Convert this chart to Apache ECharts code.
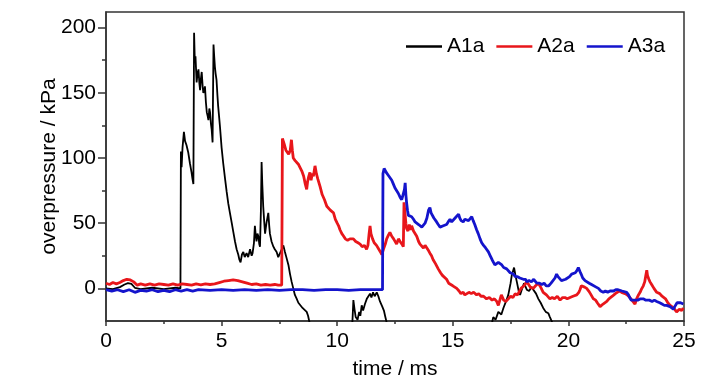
<!DOCTYPE html>
<html><head><meta charset="utf-8">
<script src="https://cdn.jsdelivr.net/npm/echarts@6/dist/echarts.min.js"></script>
<style>html,body{margin:0;padding:0;background:#fff}#c{width:728px;height:385px}</style>
</head><body><div id="c"></div><script>
const seriesNames = ['A1a', 'A2a', 'A3a'];
const seriesColors = ['#000000', '#e8161b', '#1414cc'];
const xTicks = [0, 5, 10, 15, 20, 25];
const yTicks = [0, 50, 100, 150, 200];
const yMinorTicks = [25, 75, 125, 175];

const a1a = [
[0,0],[0.3,-0.5],[0.6,1],[0.8,3],[0.95,4],[1.1,3.5],[1.25,0.5],[1.5,-0.5],[2.0,0.5],[2.5,-0.5],[3.0,0.5],[3.22,0],
[3.24,105],[3.27,93],[3.31,108],[3.37,120],[3.42,113],[3.48,110],[3.56,104],[3.63,96],[3.7,89],[3.74,84],[3.78,80],
[3.81,196],[3.84,175],[3.87,178],[3.92,158],[3.96,165],[4.0,168],[4.04,157],[4.07,152],[4.1,160],[4.14,166],[4.18,155],[4.21,150],[4.25,152],[4.28,155],[4.32,143],[4.36,135],[4.4,132],[4.43,129],[4.47,138],[4.5,135],[4.54,126],[4.57,122],[4.61,112],
[4.65,187],[4.68,178],[4.71,170],[4.74,165],[4.78,160],[4.82,148],[4.85,140],[4.9,130],[4.93,124],[5.0,108],[5.07,96],[5.15,84],[5.22,74],[5.29,65],[5.36,58],[5.44,50],[5.51,43],[5.58,36],[5.65,30],[5.72,26],[5.77,22],[5.82,20],[5.88,26],[5.94,28],[6.0,24],[6.08,27],[6.15,24],[6.23,30],[6.3,25],[6.34,27],[6.4,35],[6.44,48],[6.48,40],[6.51,36],[6.55,42],[6.59,40],[6.63,34],[6.66,32],[6.7,60],[6.73,97],[6.76,80],[6.8,63],[6.84,52],[6.88,42],[6.94,50],[7.02,58],[7.06,48],[7.09,42],[7.16,36],[7.24,32],[7.3,30],[7.38,28],[7.45,24],[7.52,25],[7.6,30],[7.67,33],[7.74,28],[7.8,24],[7.89,18],[7.96,11],[8.03,5],[8.1,0],[8.17,-5],[8.25,-8],[8.32,-11],[8.4,-12],[8.5,-15],[8.58,-14],[8.68,-18],[8.74,-21],[8.8,-26],[8.9,-40],
[10.5,-40],[10.66,-25],[10.7,-9],[10.75,-16],[10.8,-22],[10.88,-24],[10.95,-18],[11.0,-21],[11.06,-13],[11.12,-17],[11.2,-12],[11.28,-8],[11.35,-6],[11.42,-4],[11.48,-7],[11.55,-3],[11.62,-6],[11.71,-3],[11.78,-6],[11.85,-10],[11.95,-14],[12.02,-17],[12.07,-21],[12.15,-27],[12.3,-40],
[16.5,-40],[16.7,-26],[16.75,-22],[16.85,-24],[16.97,-18],[17.1,-20],[17.19,-15],[17.3,-10],[17.4,-5],[17.5,4],[17.55,10],[17.65,16],[17.72,9],[17.77,5],[17.85,-2],[17.91,-5],[18.0,0],[18.08,4],[18.2,-1],[18.3,-2],[18.4,1],[18.48,0],[18.6,-4],[18.7,-8],[18.8,-11],[18.91,-15],[19.02,-18],[19.13,-19],[19.2,-22],[19.3,-26],[19.45,-40],[25,-40]
];

const a2a = [
[0,4],[0.15,3],[0.3,4.5],[0.45,3.5],[0.6,4.5],[0.75,6],[0.9,7],[1.05,6.5],[1.2,5],[1.35,2.5],[1.5,3.5],[1.7,2.5],[1.9,3.5],[2.1,2.5],[2.3,3.5],[2.5,3],[2.7,2.5],[2.9,3.5],[3.1,2.5],[3.3,3.5],[3.5,3],[3.7,2.5],[3.9,3.5],[4.1,2.8],[4.3,3.5],[4.5,3],[4.7,3.5],[4.9,4.5],[5.1,5.5],[5.3,6],[5.5,6.5],[5.7,6],[5.9,5],[6.1,4],[6.3,3],[6.5,3.5],[6.7,2.5],[6.9,3],[7.1,2.5],[7.3,3],[7.45,2.5],[7.6,2.5],
[7.63,115],[7.67,114],[7.72,110],[7.78,106],[7.81,105],[7.9,103],[7.97,106],[8.02,114],[8.06,106],[8.1,100],[8.18,98],[8.26,97],[8.33,95],[8.39,94],[8.47,90],[8.55,86],[8.62,80],[8.68,76],[8.72,82],[8.77,86],[8.82,89],[8.87,83],[8.92,88],[8.97,86],[9.04,94],[9.1,88],[9.16,84],[9.26,78],[9.35,72],[9.45,68],[9.55,63],[9.63,62],[9.7,60],[9.78,59],[9.84,58],[9.92,53],[10.0,50],[10.06,48],[10.12,45],[10.2,42],[10.28,40],[10.35,38],[10.45,37],[10.55,38],[10.62,37],[10.7,38],[10.8,36],[10.9,35],[10.99,34],[11.08,32],[11.18,33],[11.27,30],[11.33,33],[11.38,42],[11.42,48],[11.46,42],[11.53,38],[11.6,35],[11.7,33],[11.8,30],[11.87,28],[11.93,26],[12.0,30],[12.08,34],[12.14,38],[12.22,41],[12.28,43],[12.36,40],[12.44,38],[12.5,37],[12.57,34],[12.65,38],[12.72,36],[12.8,34],[12.86,32],[12.89,66],[12.93,58],[12.97,50],[13.0,46],[13.06,44],[13.12,49],[13.17,45],[13.22,48],[13.3,44],[13.37,43],[13.44,40],[13.52,36],[13.58,34],[13.66,33],[13.73,31],[13.8,33],[13.87,32],[13.95,29],[14.01,27],[14.08,25],[14.15,22],[14.25,19],[14.37,15],[14.47,12],[14.55,10],[14.63,9],[14.73,7],[14.82,4],[14.9,3],[15.0,2],[15.08,1],[15.17,0],[15.27,-2],[15.35,-4],[15.45,-3],[15.52,-5],[15.6,-5],[15.7,-3],[15.8,-4],[15.9,-3],[16.03,-5],[16.12,-4],[16.22,-6],[16.33,-6],[16.46,-8],[16.58,-7],[16.7,-9],[16.8,-8],[16.9,-10],[16.97,-13],[17.05,-8],[17.1,-5],[17.2,-9],[17.3,-10],[17.4,-8],[17.5,-6],[17.6,-7],[17.7,-4],[17.8,-5],[17.95,0],[18.08,2],[18.2,5],[18.28,3],[18.35,1],[18.48,0],[18.58,2],[18.7,4],[18.8,1],[18.91,-3],[19.05,-5],[19.2,-8],[19.3,-7],[19.4,-8],[19.52,-6],[19.64,-9],[19.75,-7],[19.85,-7],[19.95,-8],[20.07,-7],[20.2,-6],[20.36,-5],[20.45,-3],[20.5,-1],[20.56,2],[20.62,3],[20.7,1],[20.79,0],[20.88,-2],[20.95,-4],[21.08,-8],[21.18,-9],[21.25,-11],[21.37,-14],[21.45,-13],[21.5,-12],[21.58,-11],[21.66,-10],[21.75,-8],[21.8,-7],[21.9,-6],[21.95,-5],[22.03,-4],[22.1,-4],[22.2,-2],[22.3,-3],[22.45,-4],[22.55,-5],[22.66,-7],[22.75,-9],[22.88,-12],[22.95,-8],[23.03,-5],[23.1,-3],[23.15,-1],[23.24,2],[23.3,5],[23.35,10],[23.39,14],[23.42,10],[23.48,7],[23.53,5],[23.6,3],[23.7,0],[23.82,-3],[23.9,-2],[23.95,-4],[24.05,-6],[24.11,-7],[24.2,-8],[24.3,-11],[24.4,-13],[24.48,-14],[24.55,-15],[24.62,-16],[24.68,-18],[24.75,-17],[24.8,-16],[24.9,-17],[24.97,-15]
];

const a3a = [
[0,-1],[0.25,-2],[0.5,-1],[0.75,-2.5],[1.0,-1],[1.25,-3],[1.5,-1.5],[1.75,-2],[2.0,-1],[2.25,-2.5],[2.5,-1.5],[2.75,-2.5],[3.0,-1],[3.25,-2],[3.5,-1],[3.75,-2],[4.0,-1],[4.5,-1.5],[5,-1],[5.5,-1.5],[6,-1],[6.5,-1.5],[7,-1],[7.5,-1.5],[8,-1],[8.5,-1],[9,-1.5],[9.5,-1],[10,-1],[10.5,-1.5],[11,-1],[11.5,-1],[11.96,-1],
[11.98,88],[12.03,92],[12.07,91],[12.12,89],[12.2,87],[12.28,86],[12.36,83],[12.43,80],[12.5,77],[12.57,76],[12.64,73],[12.72,70],[12.79,68],[12.85,72],[12.91,76],[12.94,81],[12.97,72],[13.0,66],[13.04,60],[13.08,56],[13.15,55],[13.22,55],[13.3,53],[13.37,51],[13.44,52],[13.52,49],[13.58,48],[13.66,47],[13.73,47],[13.8,50],[13.88,54],[13.95,60],[14.01,62],[14.06,58],[14.12,57],[14.18,54],[14.23,54],[14.3,51],[14.37,49],[14.45,47],[14.52,46],[14.59,48],[14.66,47],[14.73,49],[14.8,51],[14.88,53],[14.95,51],[15.03,52],[15.1,54],[15.18,53],[15.25,57],[15.3,54],[15.36,52],[15.45,51],[15.52,53],[15.6,53],[15.68,52],[15.75,53],[15.82,55],[15.88,52],[15.95,49],[16.03,45],[16.1,42],[16.18,38],[16.25,35],[16.33,33],[16.42,31],[16.54,28],[16.62,25],[16.7,22],[16.76,20],[16.82,18],[16.9,18],[16.97,20],[17.04,19],[17.12,18],[17.2,16],[17.27,17],[17.33,15],[17.4,14],[17.48,12],[17.55,11],[17.62,11],[17.7,9],[17.8,9],[17.9,8],[17.97,9],[18.05,7],[18.15,7],[18.2,5],[18.3,6],[18.4,5],[18.5,7],[18.63,4],[18.75,4],[18.85,3],[18.95,4],[19.04,2],[19.15,2],[19.25,4],[19.33,5],[19.42,8],[19.49,11],[19.55,9],[19.62,8],[19.7,6],[19.78,6],[19.88,7],[19.95,8],[20.05,9],[20.14,11],[20.22,10],[20.3,12],[20.38,14],[20.43,16],[20.5,13],[20.55,11],[20.62,8],[20.72,6],[20.8,5],[20.9,4],[21.0,3],[21.08,2],[21.2,1],[21.3,0],[21.4,-2],[21.51,-3],[21.6,-2],[21.7,-3],[21.8,-2],[21.95,-2],[22.05,-1],[22.15,-1],[22.23,-1],[22.32,-2],[22.4,-2],[22.52,-3],[22.6,-5],[22.65,-7],[22.72,-9],[22.8,-10],[22.9,-9],[23.0,-9],[23.12,-8],[23.24,-8],[23.35,-9],[23.5,-9],[23.62,-10],[23.72,-9],[23.82,-10],[23.95,-11],[24.05,-12],[24.15,-13],[24.25,-13],[24.33,-14],[24.4,-14],[24.48,-15],[24.54,-16],[24.6,-14],[24.65,-13],[24.7,-11],[24.76,-10],[24.85,-11],[24.97,-12]
];

const seriesData = [a1a, a2a, a3a];
const lineWidths = [1.8, 2.8, 2.8];
const font = '"Liberation Sans", Arial, sans-serif';
const axisColor = '#333';

const chart = echarts.init(document.getElementById('c'));
chart.setOption({
  animation: false,
  backgroundColor: '#fff',
  grid: { left: 106, right: 44, top: 12, bottom: 63, show: true, borderColor: axisColor, borderWidth: 1.5 },
  legend: {
    left: 401, top: 31, icon: 'rect', itemWidth: 36, itemHeight: 2.5, itemGap: 12,
    textStyle: { fontSize: 21, color: '#000', fontFamily: font },
    data: seriesNames
  },
  xAxis: {
    type: 'value', min: 0, max: 25, interval: 5,
    axisLine: { onZero: false, lineStyle: { color: axisColor, width: 1.5 } },
    axisTick: { length: 5, lineStyle: { color: axisColor, width: 1.5 } },
    minorTick: { show: true, splitNumber: 2, length: 3, lineStyle: { color: axisColor, width: 1.5 } },
    splitLine: { show: false }, minorSplitLine: { show: false },
    axisLabel: { customValues: xTicks, color: '#000', fontSize: 21, fontFamily: font, margin: 10 },
    name: 'time / ms', nameLocation: 'middle', nameGap: 38, nameMoveOverlap: false,
    nameTextStyle: { color: '#000', fontSize: 21, fontFamily: font }
  },
  yAxis: [{
    type: 'value', min: -25, max: 212,
    axisLine: { show: true, onZero: false, lineStyle: { color: axisColor, width: 1.5 } },
    axisTick: { show: true, customValues: yTicks, length: 8, lineStyle: { color: axisColor, width: 1.5 } },
    splitLine: { show: false },
    axisLabel: { customValues: yTicks, color: '#000', fontSize: 21, fontFamily: font, margin: 10 },
    name: 'overpressure / kPa', nameLocation: 'middle', nameGap: 46, nameMoveOverlap: false,
    nameTextStyle: { color: '#000', fontSize: 21, fontFamily: font }
  }, {
    type: 'value', min: -25, max: 212, position: 'left',
    axisLine: { show: false, onZero: false },
    axisTick: { show: true, customValues: yMinorTicks, length: 4, lineStyle: { color: axisColor, width: 1.5 } },
    splitLine: { show: false },
    axisLabel: { show: false }
  }],
  series: seriesNames.map((n, i) => ({
    name: n, type: 'line', data: seriesData[i], yAxisIndex: 0,
    symbol: 'none', showSymbol: false, clip: true,
    color: seriesColors[i],
    lineStyle: { color: seriesColors[i], width: lineWidths[i] },
    z: 2 + i
  }))
});
</script></body></html>
